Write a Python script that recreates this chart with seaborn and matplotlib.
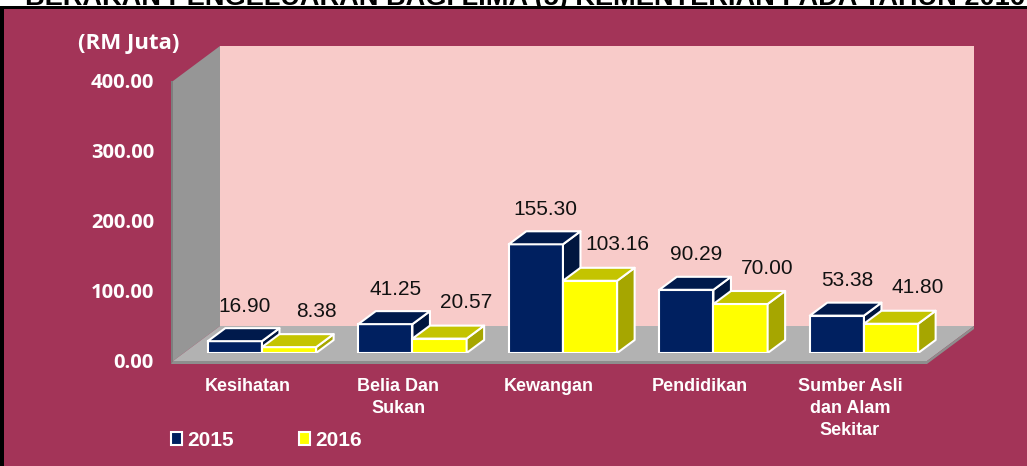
import numpy as np
import pandas as pd
import matplotlib
matplotlib.use("Agg")
import matplotlib.pyplot as plt
import seaborn as sns
from matplotlib.patches import Polygon, Rectangle
from matplotlib.transforms import ScaledTranslation, Bbox, TransformedBbox

# ---------------- data ----------------
categories = ["Kesihatan", "Belia Dan\nSukan", "Kewangan", "Pendidikan",
              "Sumber Asli\ndan Alam\nSekitar"]
years = ["2015", "2016"]
values_2015 = [16.90, 41.25, 155.30, 90.29, 53.38]
values_2016 = [8.38, 20.57, 103.16, 70.00, 41.80]
y_ticks = [0, 100, 200, 300, 400]
y_unit = "(RM Juta)"
title = "BERAKAN PENGELUARAN BAGI LIMA (5) KEMENTERIAN PADA TAHUN 2016"

df = pd.DataFrame({
    "category": categories * 2,
    "year": [years[0]] * len(categories) + [years[1]] * len(categories),
    "value": values_2015 + values_2016,
})

# ---------------- style ----------------
W, H, DPI = 1027, 466, 100
MAROON = "#A33458"
PINK = "#F8CBC9"
FLOOR = "#B2B2B2"
FLOOR_EDGE = "#8E8E8E"
WALL = "#969696"
WALL_EDGE = "#7E7E7E"
FRONT = ["#002060", "#FFFF00"]
TOP = ["#001A4C", "#C4C400"]
SIDE = ["#00163F", "#A6A600"]

sns.set_theme(style="white")
plt.rcParams["font.family"] = ["Liberation Sans", "DejaVu Sans"]

fig = plt.figure(figsize=(W / DPI, H / DPI), dpi=DPI, facecolor=MAROON)

# axes = front plane of the bars (pixels)
ax_l, ax_r, ax_t, ax_b = 183.7, 937.7, 73.0, 353.0
ax = fig.add_axes([ax_l / W, 1 - ax_b / H, (ax_r - ax_l) / W, (ax_b - ax_t) / H])
ax.set_facecolor("none")
XL, XR, YMAX = -0.52, 4.49, 400

ppx = (ax_r - ax_l) / (XR - XL)
ppy = (ax_b - ax_t) / YMAX


def off(dx_px, dy_px):
    return dx_px / ppx, dy_px / ppy


sns.barplot(data=df, x="category", y="value", hue="year", order=categories,
            hue_order=years, palette=FRONT, saturation=1, width=0.72,
            edgecolor="white", linewidth=1.5, errorbar=None, legend=False, ax=ax)
ax.set_xlim(XL, XR)
ax.set_ylim(0, YMAX)

# ---------------- 3D box (walls & floor) ----------------
p0x, p0y = off(-10.7, -8)     # front plane of walls / axis labels
bkx, bky = off(36.3, 27)      # back wall plane
tx, ty = off(0, 3)            # floor thickness

back_wall = Polygon([(XL + bkx, bky), (XR + bkx, bky), (XR + bkx, YMAX + bky),
                     (XL + bkx, YMAX + bky)], closed=True, fc=PINK, ec="none",
                    zorder=0.5, clip_on=False)
left_wall = Polygon([(XL + p0x, p0y), (XL + bkx, bky), (XL + bkx, YMAX + bky),
                     (XL + p0x, YMAX + p0y)], closed=True, fc=WALL, ec="none",
                    zorder=0.6, clip_on=False)
ex, _ = off(2, 0)
left_edge = Polygon([(XL + p0x - ex, p0y - ty), (XL + p0x, p0y), (XL + p0x, YMAX + p0y),
                     (XL + p0x - ex, YMAX + p0y)], closed=True, fc=WALL_EDGE,
                    ec="none", zorder=0.6, clip_on=False)
floor = Polygon([(XL + p0x, p0y), (XR + p0x, p0y), (XR + bkx, bky), (XL + bkx, bky)],
                closed=True, fc=FLOOR, ec="none", zorder=0.7, clip_on=False)
floor_front = Polygon([(XL + p0x - ex, p0y - ty), (XR + p0x, p0y - ty), (XR + p0x, p0y),
                       (XL + p0x, p0y)], closed=True, fc=FLOOR_EDGE, ec="none",
                      zorder=0.7, clip_on=False)
floor_side = Polygon([(XR + p0x, p0y - ty), (XR + bkx, bky - ty), (XR + bkx, bky),
                      (XR + p0x, p0y)], closed=True, fc=FLOOR_EDGE, ec="none",
                     zorder=0.7, clip_on=False)
for p in [back_wall, left_wall, left_edge, floor, floor_front, floor_side]:
    ax.add_patch(p)

# ---------------- 3D bars ----------------
ddx, ddy = off(17.5, 13)
lab_off = [off(10, 35), off(27, 36)]
for h, cont in enumerate(ax.containers):
    for rect in cont.patches:
        x0, w, ht = rect.get_x(), rect.get_width(), rect.get_height()
        rect.set_zorder(2 + h)
        top = Polygon([(x0, ht), (x0 + w, ht), (x0 + w + ddx, ht + ddy), (x0 + ddx, ht + ddy)],
                      closed=True, fc=TOP[h], ec="white", lw=1.5, zorder=2 + h + 0.1,
                      joinstyle="round")
        side = Polygon([(x0 + w, 0), (x0 + w + ddx, ddy), (x0 + w + ddx, ht + ddy), (x0 + w, ht)],
                       closed=True, fc=SIDE[h], ec="white", lw=1.5, zorder=2 + h + 0.1,
                       joinstyle="round")
        ax.add_patch(side)
        ax.add_patch(top)
        lx, ly = lab_off[h]
        ax.text(x0 + w / 2 + lx, ht + ly, f"{ht:.2f}", ha="center", va="center",
                fontsize=15, color="#111111", zorder=6)

# ---------------- axes text ----------------
for s in ax.spines.values():
    s.set_visible(False)
ax.set_xlabel("")
ax.set_ylabel("")
ax.set_yticks(y_ticks)
ax.set_yticklabels([f"{t:.2f}" for t in y_ticks])
ax.tick_params(axis="y", length=0, pad=21.4, labelcolor="white")
for lbl in ax.get_yticklabels():
    lbl.set_fontfamily(["Open Sans", "DejaVu Sans"])
    lbl.set_fontweight("bold")
    lbl.set_fontsize(14.5)
    lbl.set_transform(lbl.get_transform() + ScaledTranslation(0, -8 / DPI, fig.dpi_scale_trans))

ax.set_xticks(range(len(categories)))
ax.set_xticklabels(categories)
ax.tick_params(axis="x", length=0, pad=18, labelcolor="white")
for lbl in ax.get_xticklabels():
    lbl.set_fontweight("bold")
    lbl.set_fontsize(13)
    lbl.set_linespacing(1.4)
    lbl.set_multialignment("center")
    lbl.set_transform(lbl.get_transform() + ScaledTranslation(-14 / DPI, 0, fig.dpi_scale_trans))

fig.text(129 / W, 1 - 43 / H, y_unit, ha="center", va="center", color="white",
         fontsize=16, fontweight="bold", family=["Open Sans", "DejaVu Sans"])

# ---------------- legend ----------------
handles = [Rectangle((0, 0), 1, 1, fc=c, ec="white", lw=1.5) for c in FRONT]
fig.legend(handles, years, loc="center left", bbox_to_anchor=(171 / W, 1 - 440 / H),
           bbox_transform=fig.transFigure, frameon=False, ncol=2, handlelength=0.55,
           handleheight=0.6, handletextpad=0.25, columnspacing=3.1, borderpad=0,
           borderaxespad=0, labelcolor="white",
           prop=dict(family="Liberation Sans", weight="bold", size=15))

# ---------------- frame & clipped title ----------------
fig.patches.append(Rectangle((0, 1 - 7 / H), 1, 7 / H, transform=fig.transFigure,
                             fc="white", ec="none", zorder=0.1))
t = fig.text(25 / W, 1 - 5 / H, title, ha="left", va="baseline", fontsize=19.5,
             fontweight="bold", color="black", zorder=0.2)
t.set_clip_box(TransformedBbox(Bbox([[0, 1 - 7 / H], [1, 1]]), fig.transFigure))
t.set_clip_on(True)
fig.patches.append(Rectangle((0, 1 - 9 / H), 1, 3 / H, transform=fig.transFigure,
                             fc="black", ec="none", zorder=0.3))
fig.patches.append(Rectangle((0, 0), 4 / W, 1 - 7 / H, transform=fig.transFigure,
                             fc="black", ec="none", zorder=0.3))

fig.savefig("out.png", dpi=DPI, facecolor=MAROON)
